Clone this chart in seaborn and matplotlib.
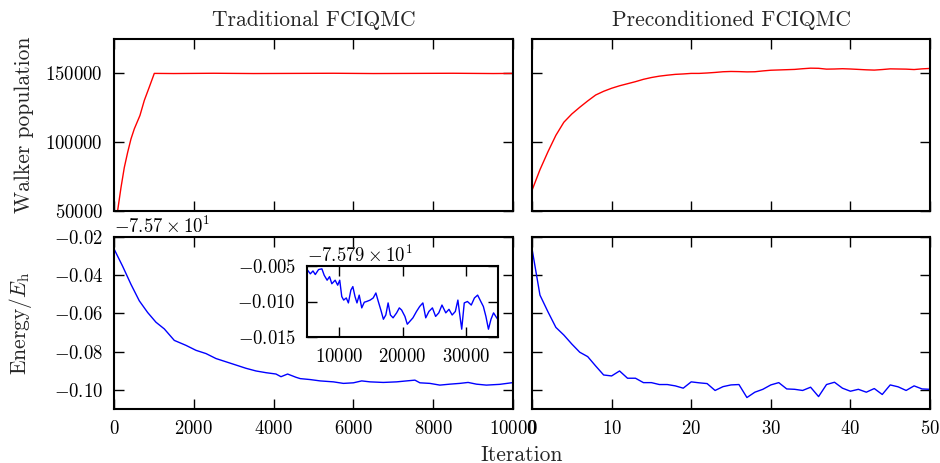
"""
Walker population and energy: traditional vs preconditioned FCIQMC
"""
import matplotlib
matplotlib.use('Agg')
import matplotlib.pyplot as plt
import seaborn as sns
import numpy as np
import pandas as pd
from matplotlib.ticker import ScalarFormatter, MultipleLocator

# Traditional FCIQMC: walker population vs iteration
trad_pop_iter = [0, 90, 175, 258, 342, 426, 509, 650, 760, 885, 1010, 1500,
                 2500, 3500, 4500, 5500, 6500, 7500, 8500, 9500, 10000]
trad_pop = [40000, 50000, 67000, 81600, 92600, 102400, 109700, 119400,
            130400, 140100, 150000, 149900, 150100, 149900, 150000, 150100,
            149900, 150000, 150100, 149900, 150000]

# Traditional FCIQMC: energy (offset from -75.7 Eh) vs iteration
trad_e_iter = [0, 33, 216, 426, 634, 843, 1052, 1261, 1511, 1804, 2055, 2306,
               2556, 2807, 3058, 3308, 3559, 3810, 4060, 4185, 4351, 4561,
               4667, 4917, 5167, 5500, 5750, 6000, 6208, 6417, 6750, 7083,
               7333, 7542, 7667, 7917, 8167, 8417, 8667, 8875, 9083, 9333,
               9667, 9958, 10000]
trad_e = [-0.0262, -0.0276, -0.0353, -0.0448, -0.0534, -0.0595, -0.0646,
          -0.0681, -0.0741, -0.0767, -0.0793, -0.0810, -0.0836, -0.0853,
          -0.0870, -0.0887, -0.0901, -0.0910, -0.0917, -0.0931, -0.0917,
          -0.0934, -0.0941, -0.0946, -0.0953, -0.0958, -0.0966, -0.0963,
          -0.0953, -0.0958, -0.0961, -0.0958, -0.0953, -0.0949, -0.0963,
          -0.0966, -0.0975, -0.0970, -0.0966, -0.0961, -0.0970, -0.0975,
          -0.0971, -0.0963, -0.0962]

# Inset: long run energy (offset from -75.79 Eh)
inset_iter = [5100, 5520, 5940, 6300, 6820, 7340, 7700, 8160, 8540, 8900,
              9420, 9820, 10140, 10460, 10760, 11170, 11500, 11890, 12200,
              12540, 12850, 13200, 13600, 14000, 14360, 14920, 15400, 15820,
              16200, 16600, 17000, 17380, 17740, 18100, 18520, 19080, 19500,
              19860, 20380, 20750, 21150, 21640, 22200, 22700, 23200, 23650,
              24150, 24700, 25200, 25700, 26200, 26800, 27300, 27800, 28300,
              28700, 29000, 29300, 29700, 30200, 30800, 31300, 31800, 32300,
              32700, 33100, 33500, 33900, 34300, 34650, 34950]
inset_e = [-0.0056, -0.0061, -0.0057, -0.0062, -0.0055, -0.0054, -0.0063,
           -0.0070, -0.0065, -0.0075, -0.0070, -0.0077, -0.0070, -0.0093,
           -0.0098, -0.0095, -0.0102, -0.0084, -0.0079, -0.0093, -0.0102,
           -0.0091, -0.0109, -0.0101, -0.0100, -0.0098, -0.0095, -0.0088,
           -0.0100, -0.0112, -0.0125, -0.0119, -0.0102, -0.0119, -0.0123,
           -0.0116, -0.0109, -0.0112, -0.0121, -0.0132, -0.0128, -0.0123,
           -0.0114, -0.0107, -0.0102, -0.0123, -0.0114, -0.0109, -0.0121,
           -0.0116, -0.0105, -0.0116, -0.0111, -0.0119, -0.0114, -0.0098,
           -0.0119, -0.0139, -0.0102, -0.0100, -0.0105, -0.0095, -0.0091,
           -0.0100, -0.0107, -0.0121, -0.0139, -0.0125, -0.0116, -0.0121,
           -0.0125]

# Preconditioned FCIQMC: one value per iteration 0..50
prec_iter = list(range(51))
prec_pop = [65000, 80000, 93000, 105000, 114500, 120500, 125400, 130000,
            134300, 137000, 139200, 141000, 142500, 144000, 145700, 147000,
            148000, 148700, 149300, 149600, 150000, 150000, 150300, 150700,
            151200, 151400, 151300, 151100, 151200, 151800, 152300, 152500,
            152700, 152900, 153400, 153800, 153700, 153100, 153200, 153400,
            153200, 152900, 152600, 152400, 152800, 153300, 153200, 153100,
            152800, 153300, 153600]
prec_e = [-0.0261, -0.0504, -0.0591, -0.0673, -0.0713, -0.0760, -0.0803,
          -0.0826, -0.0875, -0.0922, -0.0927, -0.0901, -0.0939, -0.0939,
          -0.0962, -0.0962, -0.0972, -0.0972, -0.0979, -0.0991, -0.0958,
          -0.0963, -0.0967, -0.1003, -0.0983, -0.0974, -0.0972, -0.1040,
          -0.1012, -0.0997, -0.0974, -0.0962, -0.0995, -0.0997, -0.1003,
          -0.0986, -0.1035, -0.0972, -0.0960, -0.0991, -0.1007, -0.0997,
          -0.1012, -0.0993, -0.1024, -0.0974, -0.0984, -0.1003, -0.0979,
          -0.0995, -0.0997]

E_OFFSET = -75.7
E_OFFSET_INSET = -75.79

sns.set_style('ticks')
plt.rcParams.update({
    'font.family': 'cmr10',
    'mathtext.fontset': 'cm',
    'axes.formatter.use_mathtext': True,
    'axes.unicode_minus': True,
    'font.size': 13.5,
    'axes.linewidth': 1.5,
    'axes.edgecolor': 'black',
    'xtick.direction': 'in',
    'ytick.direction': 'in',
    'xtick.top': True,
    'ytick.right': True,
    'xtick.major.size': 7,
    'ytick.major.size': 7,
    'xtick.major.width': 1.0,
    'ytick.major.width': 1.0,
    'xtick.major.pad': 8,
    'ytick.major.pad': 8,
    'xtick.color': 'black',
    'ytick.color': 'black',
})

fig = plt.figure(figsize=(9.4, 4.63), dpi=100)
W, H = 940.0, 463.0


def add_ax(x0, y0, x1, y1):
    return fig.add_axes([x0 / W, 1 - y1 / H, (x1 - x0) / W, (y1 - y0) / H])


ax_tp = add_ax(114, 39, 513, 211)
ax_pp = add_ax(532, 39, 930, 211)
ax_te = add_ax(114, 237, 513, 409)
ax_pe = add_ax(532, 237, 930, 409)
ax_in = add_ax(307, 266, 498, 337)

lw = 1.0
sns.lineplot(x=trad_pop_iter, y=trad_pop, ax=ax_tp, color='#ff0000', lw=lw)
sns.lineplot(x=prec_iter, y=prec_pop, ax=ax_pp, color='#ff0000', lw=lw)
sns.lineplot(x=trad_e_iter, y=np.array(trad_e) + E_OFFSET, ax=ax_te,
             color='#0000ff', lw=lw)
sns.lineplot(x=prec_iter, y=np.array(prec_e) + E_OFFSET, ax=ax_pe,
             color='#0000ff', lw=lw)
sns.lineplot(x=inset_iter, y=np.array(inset_e) + E_OFFSET_INSET, ax=ax_in,
             color='#0000ff', lw=lw)

# limits
for ax in (ax_tp, ax_pp):
    ax.set_ylim(50000, 175000)
    ax.yaxis.set_major_locator(MultipleLocator(50000))
for ax in (ax_te, ax_pe):
    ax.set_ylim(E_OFFSET - 0.11, E_OFFSET - 0.02)
    ax.yaxis.set_major_locator(MultipleLocator(0.02))
    fmt = ScalarFormatter(useOffset=E_OFFSET, useMathText=True)
    ax.yaxis.set_major_formatter(fmt)
for ax in (ax_tp, ax_te):
    ax.set_xlim(0, 10000)
    ax.xaxis.set_major_locator(MultipleLocator(2000))
for ax in (ax_pp, ax_pe):
    ax.set_xlim(0, 50)
    ax.xaxis.set_major_locator(MultipleLocator(10))

ax_in.set_xlim(5000, 35000)
ax_in.set_ylim(E_OFFSET_INSET - 0.015, E_OFFSET_INSET - 0.005)
ax_in.xaxis.set_major_locator(MultipleLocator(10000))
ax_in.yaxis.set_major_locator(MultipleLocator(0.005))
ax_in.yaxis.set_major_formatter(ScalarFormatter(useOffset=E_OFFSET_INSET,
                                                useMathText=True))

# hide shared labels
ax_tp.tick_params(labelbottom=False)
ax_pp.tick_params(labelbottom=False, labelleft=False)
ax_pe.tick_params(labelleft=False)
ax_pe.yaxis.get_offset_text().set_visible(False)

# labels
ax_tp.set_title('Traditional FCIQMC', fontsize=15.5, pad=9)
ax_pp.set_title('Preconditioned FCIQMC', fontsize=15.5, pad=9)
ax_tp.set_ylabel('Walker population', fontsize=15.5)
ax_te.set_ylabel(r'Energy/$E_\mathrm{h}$', fontsize=15.5)
for ax in (ax_tp, ax_te):
    ax.yaxis.set_label_coords(-0.2, 0.5)
fig.text(522 / W, 1 - 455 / H, 'Iteration', fontsize=15.5,
         ha='center', va='center')

for ax in (ax_tp, ax_pp, ax_te, ax_pe, ax_in):
    ax.set_xlabel('')
    for s in ax.spines.values():
        s.set_visible(True)
        s.set_linewidth(1.5)

plt.savefig('out.png', dpi=100)
